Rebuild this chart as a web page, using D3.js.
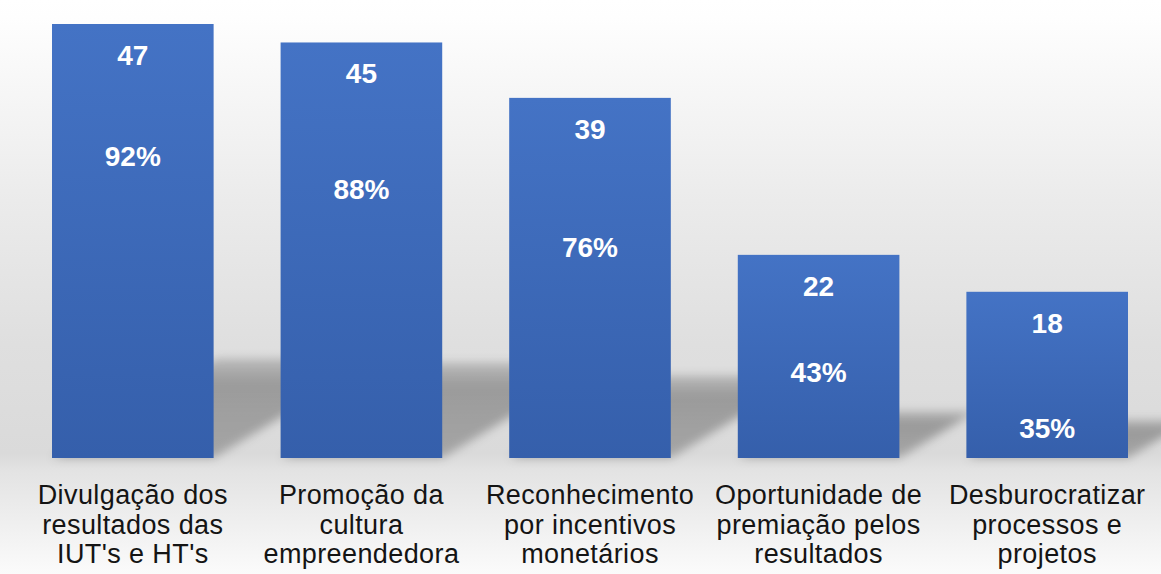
<!DOCTYPE html>
<html>
<head>
<meta charset="utf-8">
<script src="https://cdn.jsdelivr.net/npm/d3@7"></script>
<style>
  html, body { margin: 0; padding: 0; background: #ffffff; }
  svg { display: block; }
</style>
</head>
<body>
<svg id="chart" width="1161" height="574"></svg>
<script>
// Categories (each label split into its display lines)
const categories = [
  ["Divulgação dos", "resultados das", "IUT's e HT's"],
  ["Promoção da", "cultura", "empreendedora"],
  ["Reconhecimento", "por incentivos", "monetários"],
  ["Oportunidade de", "premiação pelos", "resultados"],
  ["Desburocratizar", "processos e", "projetos"]
];
// Number of respondents per item
const counts = [47, 45, 39, 22, 18];
// Share of respondents per item
const percents = ["92%", "88%", "76%", "43%", "35%"];

// Layout: depth of the percentage label below each bar top (px)
const pctLabelDrop = [142, 157, 159, 127, 146];

const W = 1161, H = 574;
const baseY = 458, topY = 24;
const svg = d3.select("#chart");
const defs = svg.append("defs");

// Background wash
const bg = defs.append("linearGradient").attr("id", "bg")
  .attr("x1", 0).attr("y1", 0).attr("x2", 0).attr("y2", 1);
[[0, "#ffffff"], [0.03, "#fefefe"], [0.35, "#ebebeb"], [0.6, "#dfdfdf"],
 [0.79, "#dadada"], [0.82, "#e3e3e3"], [1, "#fbfbfb"]]
  .forEach(([o, c]) => bg.append("stop").attr("offset", o).attr("stop-color", c));
svg.append("rect").attr("width", W).attr("height", H).attr("fill", "url(#bg)");

// Bar fill
const barGrad = defs.append("linearGradient").attr("id", "barGrad")
  .attr("x1", 0).attr("y1", 0).attr("x2", 0).attr("y2", 1);
barGrad.append("stop").attr("offset", 0).attr("stop-color", "#4473c5");
barGrad.append("stop").attr("offset", 1).attr("stop-color", "#355fab");

// Cast shadow: darker at the foot, fading toward the far edge
const shGrad = defs.append("linearGradient").attr("id", "shGrad")
  .attr("x1", 0).attr("y1", 1).attr("x2", 0).attr("y2", 0);
shGrad.append("stop").attr("offset", 0).attr("stop-color", "#000").attr("stop-opacity", 0.24);
shGrad.append("stop").attr("offset", 0.75).attr("stop-color", "#000").attr("stop-opacity", 0.3);
shGrad.append("stop").attr("offset", 1).attr("stop-color", "#000").attr("stop-opacity", 0.16);

const blur = defs.append("filter").attr("id", "soft")
  .attr("x", "-30%").attr("y", "-30%").attr("width", "160%").attr("height", "160%");
blur.append("feGaussianBlur").attr("stdDeviation", 5);

const x = d3.scaleBand()
  .domain(d3.range(categories.length))
  .range([52, 1128])
  .paddingInner(0.293)
  .paddingOuter(0);

const y = d3.scaleLinear().domain([0, 47]).range([baseY, topY]);

const data = counts.map((c, i) => ({ i, c, pct: percents[i], lines: categories[i] }));

// Shadows cast up and to the right of each bar
const kY = 0.23, kX = 0.38;
svg.append("g").attr("filter", "url(#soft)")
  .selectAll("path").data(data).join("path")
  .attr("d", d => {
    const x0 = x(d.i), x1 = x0 + x.bandwidth();
    const h = baseY - y(d.c);
    const dy = h * kY, dx = h * kX;
    return `M${x0},${baseY}L${x1},${baseY}L${x1 + dx},${baseY - dy}L${x0 + dx},${baseY - dy}Z`;
  })
  .attr("fill", "url(#shGrad)");

// Bars
svg.append("g").selectAll("rect").data(data).join("rect")
  .attr("x", d => x(d.i))
  .attr("y", d => y(d.c))
  .attr("width", x.bandwidth())
  .attr("height", d => baseY - y(d.c))
  .attr("fill", "url(#barGrad)");

const font = "'Liberation Sans', Arial, Helvetica, sans-serif";

// Count labels
svg.append("g").selectAll("text").data(data).join("text")
  .attr("x", d => x(d.i) + x.bandwidth() / 2)
  .attr("y", d => y(d.c) + 41)
  .attr("text-anchor", "middle")
  .attr("font-family", font)
  .attr("font-weight", "bold")
  .attr("font-size", 28)
  .attr("fill", "#ffffff")
  .text(d => d.c);

// Percentage labels
svg.append("g").selectAll("text").data(data).join("text")
  .attr("x", d => x(d.i) + x.bandwidth() / 2)
  .attr("y", d => y(d.c) + pctLabelDrop[d.i])
  .attr("text-anchor", "middle")
  .attr("font-family", font)
  .attr("font-weight", "bold")
  .attr("font-size", 28)
  .attr("fill", "#ffffff")
  .text(d => d.pct);

// Category labels (x axis without line or ticks)
const axis = svg.append("g")
  .attr("transform", `translate(0,${baseY})`)
  .call(d3.axisBottom(x).tickSize(0).tickFormat(""));
axis.select(".domain").remove();
axis.selectAll(".tick").each(function (i) {
  const t = d3.select(this).append("text")
    .attr("text-anchor", "middle")
    .attr("font-family", font)
    .attr("font-size", 27)
    .attr("letter-spacing", "0.4px")
    .attr("fill", "#141414");
  categories[i].forEach((line, k) => {
    t.append("tspan").attr("x", 0).attr("y", 46 + k * 29.5).text(line);
  });
});
</script>
</body>
</html>
